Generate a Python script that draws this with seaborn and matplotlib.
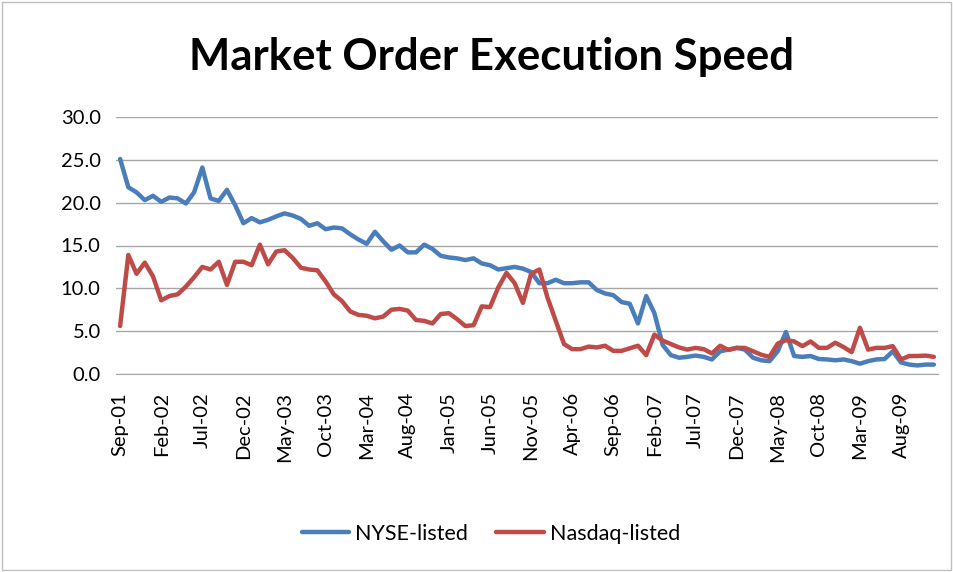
import pandas as pd
import seaborn as sns
import matplotlib.pyplot as plt
from matplotlib.patches import Rectangle

# monthly observations, Sep-01 .. Dec-09
months = pd.date_range("2001-09-01", periods=100, freq="MS").strftime("%b-%y").tolist()

nyse = [
    25.1, 21.8, 21.2, 20.3, 20.8, 20.1, 20.6, 20.5, 19.9, 21.2,
    24.1, 20.5, 20.2, 21.5, 19.7, 17.6, 18.2, 17.7, 18.0, 18.4,
    18.75, 18.5, 18.1, 17.3, 17.6, 16.9, 17.1, 17.0, 16.3, 15.7,
    15.2, 16.6, 15.5, 14.5, 15.0, 14.2, 14.2, 15.1, 14.6, 13.8,
    13.6, 13.5, 13.3, 13.5, 12.9, 12.7, 12.2, 12.35, 12.5, 12.3,
    11.9, 10.6, 10.6, 11.0, 10.6, 10.6, 10.7, 10.7, 9.8, 9.4,
    9.2, 8.4, 8.2, 5.9, 9.1, 7.1, 3.4, 2.2, 1.9, 2.0,
    2.15, 2.0, 1.7, 2.65, 2.85, 3.05, 2.85, 1.9, 1.6, 1.5,
    2.65, 4.9, 2.1, 2.0, 2.1, 1.75, 1.7, 1.6, 1.7, 1.5,
    1.2, 1.5, 1.7, 1.75, 2.65, 1.35, 1.1, 1.0, 1.1, 1.1,
]

nasdaq = [
    5.6, 13.9, 11.7, 13.0, 11.4, 8.6, 9.1, 9.3, 10.2, 11.3,
    12.5, 12.2, 13.1, 10.4, 13.1, 13.1, 12.7, 15.1, 12.8, 14.3,
    14.45, 13.55, 12.4, 12.2, 12.1, 10.8, 9.3, 8.5, 7.3, 6.9,
    6.8, 6.5, 6.7, 7.5, 7.6, 7.4, 6.3, 6.2, 5.9, 7.0,
    7.1, 6.4, 5.6, 5.7, 7.9, 7.8, 10.1, 11.8, 10.6, 8.3,
    11.7, 12.2, 8.9, 6.2, 3.5, 2.9, 2.9, 3.2, 3.1, 3.3,
    2.7, 2.7, 3.0, 3.3, 2.2, 4.6, 3.9, 3.5, 3.1, 2.85,
    3.05, 2.9, 2.4, 3.3, 2.8, 3.05, 3.05, 2.65, 2.25, 2.0,
    3.55, 3.95, 3.8, 3.25, 3.8, 3.05, 3.05, 3.65, 3.15, 2.55,
    5.4, 2.85, 3.05, 3.05, 3.25, 1.7, 2.1, 2.1, 2.15, 2.0,
]

series_names = ["NYSE-listed", "Nasdaq-listed"]
colors = ["#4A7EBB", "#BE4B48"]
y_ticks = [0, 5, 10, 15, 20, 25, 30]

df = pd.DataFrame({"idx": range(len(months)), "NYSE-listed": nyse, "Nasdaq-listed": nasdaq})
long_df = df.melt(id_vars="idx", var_name="series", value_name="speed")

sns.set_style("white")
plt.rcParams["font.family"] = ["Lato", "DejaVu Sans"]
plt.rcParams["text.color"] = "black"
plt.rcParams["xtick.color"] = "black"
plt.rcParams["ytick.color"] = "black"

fig = plt.figure(figsize=(9.54, 5.72), dpi=100)
ax = fig.add_axes([116 / 954, 1 - 374 / 572, (938 - 116) / 954, (374 - 117) / 572])

sns.lineplot(data=long_df, x="idx", y="speed", hue="series", hue_order=series_names,
             palette=colors, linewidth=3.2, ax=ax, legend=False)

ax.set_xlim(-0.5, len(months) - 0.5)
ax.set_ylim(0, 30)
ax.set_yticks(y_ticks)
ax.set_yticklabels([f"{v:.1f}" for v in y_ticks], fontsize=14.5)
tick_pos = list(range(0, len(months), 5))
ax.set_xticks(tick_pos)
ax.set_xticklabels([months[i] for i in tick_pos], rotation=90, fontsize=14.5)
ax.tick_params(axis="y", length=0, pad=11)
ax.tick_params(axis="x", length=0, pad=13)
ax.set_xlabel("")
ax.set_ylabel("")
ax.yaxis.grid(True, color="#a6a6a6", linewidth=1)
ax.set_axisbelow(True)
for side in ["top", "right", "left"]:
    ax.spines[side].set_visible(False)
ax.spines["bottom"].set_color("#a6a6a6")

fig.text(492 / 954, 1 - 57 / 572, "Market Order Execution Speed", ha="center", va="center",
         fontsize=31.5, fontweight="bold")

handles = [plt.Line2D([], [], color=c, linewidth=3.2) for c in colors]
fig.legend(handles, series_names, loc="center", bbox_to_anchor=(491 / 954, 1 - 534 / 572),
           ncol=2, frameon=False, fontsize=15.5, handlelength=2.2, handletextpad=0.3,
           columnspacing=1.3)

fig.patches.append(Rectangle((0.002, 0.003), 0.995, 0.994, transform=fig.transFigure,
                             fill=False, edgecolor="#bfbfbf", linewidth=1))

fig.savefig("out.png", dpi=100)
